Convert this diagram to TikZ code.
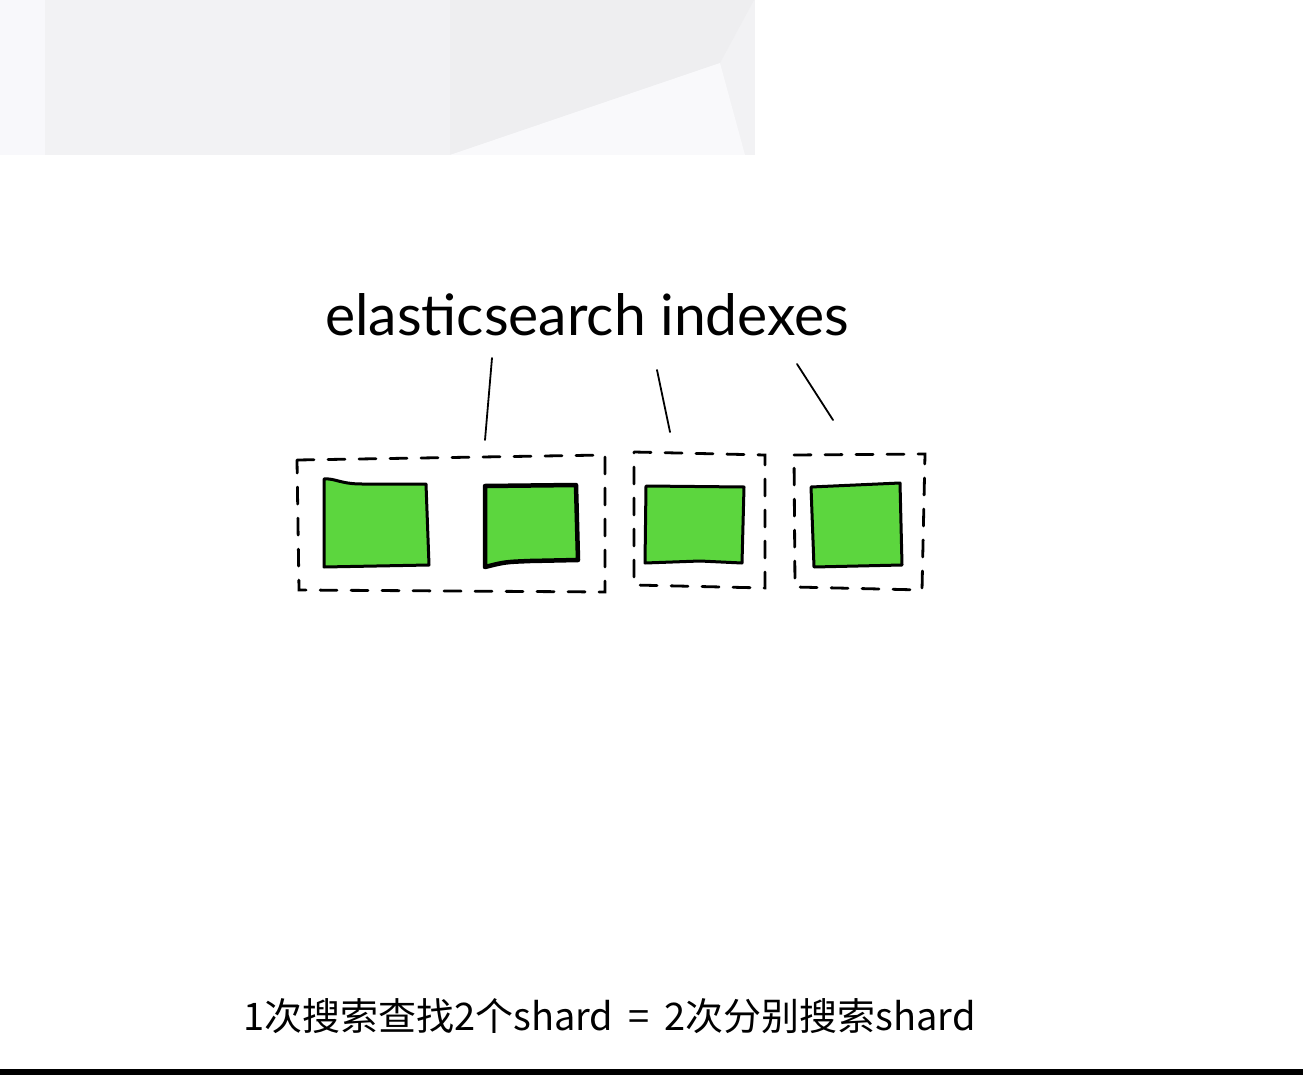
\documentclass[tikz,border=0pt]{standalone}
\usepackage{fontspec}
\newfontfamily\cjk{Noto Sans CJK SC}
\newfontfamily\handfont{Lato}
\definecolor{shardgreen}{RGB}{92,214,62}
\definecolor{bgA}{RGB}{242,242,244}
\definecolor{bgB}{RGB}{248,248,251}
\definecolor{bgC}{RGB}{238,238,240}
\definecolor{bgD}{RGB}{249,249,251}
\tikzset{
  shardbox/.style={draw=black, fill=shardgreen, line width=3pt, line join=round},
  groupbox/.style={draw=black, line width=2.8pt, dash pattern=on 17pt off 14pt, line cap=round},
  pointer/.style={draw=black, line width=1.8pt, line cap=round},
}
\begin{document}
\begin{tikzpicture}[x=1pt,y=-1pt]
\useasboundingbox (0,0) rectangle (1303,1075);
% background shading at the top
\fill[bgA] (0,0) rectangle (755,155);
\fill[bgB] (0,0) rectangle (45,155);
\fill[bgC] (450,0) -- (754,0) -- (720,63) -- (450,155) -- cycle;
\fill[bgD] (450,155) -- (720,63) -- (745,155) -- cycle;
% bottom bar
\fill[black] (0,1069) rectangle (1303,1075);

% title
\node[anchor=base west, inner sep=0pt, font=\handfont\fontsize{57}{60}\selectfont] (title) at (325,335) {elasticsearch indexes};

% connectors (pointers)
\coordinate (p1s) at (492,358);
\coordinate (p1e) at (485,440);
\coordinate (p2s) at (657,370);
\coordinate (p2e) at (670,432);
\coordinate (p3s) at (797,364);
\coordinate (p3e) at (833,420);
\draw[pointer] (p1s) -- (p1e);
\draw[pointer] (p2s) -- (p2e);
\draw[pointer] (p3s) -- (p3e);

% dashed group boxes
\draw[groupbox] (297,460) -- (605,455) -- (605,592) -- (299,590) -- cycle;
\draw[groupbox] (634,452) -- (765,455) -- (765,588) -- (634,585) -- cycle;
\draw[groupbox] (794,455) -- (925,454) -- (922,590) -- (795,587) -- cycle;
\node[inner sep=0pt, minimum width=308pt, minimum height=134pt] (groupA) at (451,523) {};
\node[inner sep=0pt, minimum width=131pt, minimum height=134pt] (groupB) at (700,520) {};
\node[inner sep=0pt, minimum width=131pt, minimum height=134pt] (groupC) at (860,522) {};

% green shards
\draw[shardbox] (324,479) .. controls (335,478) and (340,484) .. (362,484) -- (426,484) -- (429,565) -- (324,567) -- cycle;
\draw[shardbox, line width=4.5pt] (485,486) -- (576,485) -- (578,560) -- (530,561) .. controls (505,562) .. (485,567) -- cycle;
\draw[shardbox] (646,486) -- (744,487) -- (742,563) -- (700,561) -- (645,563) -- cycle;
\draw[shardbox] (811,487) -- (900,483) -- (902,565) -- (814,567) -- cycle;

% bottom caption
\node[anchor=base west, inner sep=0pt, font=\cjk\fontsize{38}{40}\selectfont] (caption) at (243,1030) {1次搜索查找2个shard\hspace{15pt}=\hspace{15pt}2次分别搜索shard};
\end{tikzpicture}
\end{document}
